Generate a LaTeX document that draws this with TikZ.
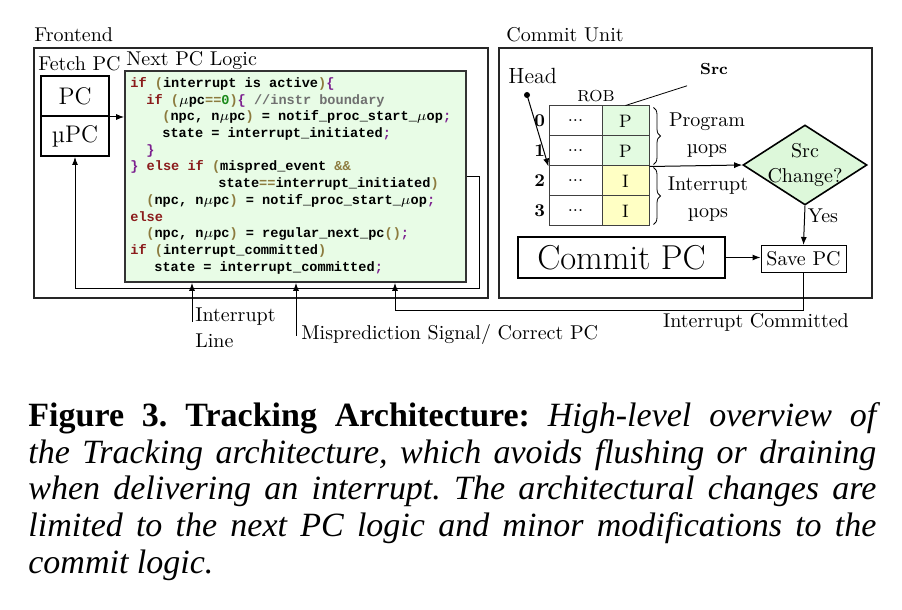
\documentclass[tikz,border=0pt]{standalone}
\usepackage{fontspec}
\usepackage{xcolor}
\usepackage{tikz}
\usetikzlibrary{arrows.meta,shapes.geometric,decorations.pathreplacing}
\newfontfamily\codefont{Liberation Mono}
\newfontfamily\capfont{Liberation Serif}
\definecolor{TRCode}{HTML}{E8FCE6}
\definecolor{TRProg}{HTML}{E3FBE1}
\definecolor{TRIntr}{HTML}{FFFFC4}
\definecolor{TRDiam}{HTML}{DDF8DA}
\definecolor{TRKey}{HTML}{8B1C1C}
\definecolor{TRParen}{HTML}{8C7B3E}
\definecolor{TRBrace}{HTML}{7B1F8E}
\definecolor{TRCmt}{HTML}{707070}
\definecolor{TRNum}{HTML}{1A8A1A}
\newcommand{\cdkw}[1]{\textcolor{TRKey}{#1}}
\newcommand{\cdpn}[1]{\textcolor{TRParen}{#1}}
\newcommand{\cdbr}[1]{\textcolor{TRBrace}{#1}}
\newcommand{\cdcm}[1]{\textcolor{TRCmt}{#1}}
\newcommand{\cdnum}[1]{\textcolor{TRNum}{#1}}

\begin{document}
\begin{tikzpicture}[x=0.5pt,y=-0.5pt,
  arr/.style={-{Latex[length=4pt,width=3pt]},line width=0.5pt},
  unitbox/.style={draw=black!85,line width=0.7pt,inner sep=0pt},
  pcbox/.style={draw,line width=1pt,minimum width=34pt,minimum height=20pt,inner sep=0pt,font=\large},
  robcell/.style={draw=black!75,line width=0.5pt,inner sep=0pt,minimum height=15pt,font=\small},
  rowno/.style={anchor=east,inner sep=1.5pt,font=\small\bfseries}]
\path[use as bounding box] (0,0) rectangle (902,610);
% frontend
\node[unitbox,minimum width=227pt,minimum height=125pt] (front) at (261,173) {};
\node[anchor=base west,inner sep=0pt] at (34,42) {Frontend};
\node[anchor=base west,inner sep=0pt] at (38,71) {Fetch PC};
\node[anchor=base west,inner sep=0pt] at (126,66) {Next PC Logic};
\node[pcbox] (pc) at (75,96) {PC};
\node[pcbox] (upc) at (75,136) {µPC};
\node[draw=black!80,line width=0.8pt,fill=TRCode,minimum width=170.5pt,minimum height=105.5pt,inner sep=0pt] (npl) at (295.5,176.5) {};
\node[anchor=north west,align=left,inner sep=0pt,font=\codefont\bfseries\fontsize{6.8}{8.35}\selectfont] (code) at (130,77) {%
\cdkw{if} \cdpn{(}interrupt is active\cdpn{)}\cdbr{\{}\\
\hspace*{8pt}\cdkw{if} \cdpn{(}$\mu$pc\cdpn{==}\cdnum{0}\cdpn{)}\cdbr{\{} \cdcm{//instr boundary}\\
\hspace*{16pt}\cdpn{(}npc, n$\mu$pc\cdpn{)} = notif\_proc\_start\_$\mu$op\cdbr{;}\\
\hspace*{16pt}state = interrupt\_initiated\cdbr{;}\\
\hspace*{8pt}\cdbr{\}}\\
\cdbr{\}} \cdkw{else if} \cdpn{(}mispred\_event \cdpn{\&\&}\\
\hspace*{44pt}state\cdpn{==}interrupt\_initiated\cdpn{)}\\
\hspace*{8pt}\cdpn{(}npc, n$\mu$pc\cdpn{)} = notif\_proc\_start\_$\mu$op\cdbr{;}\\
\cdkw{else}\\
\hspace*{8pt}\cdpn{(}npc, n$\mu$pc\cdpn{)} = regular\_next\_pc\cdpn{()}\cdbr{;}\\
\cdkw{if} \cdpn{(}interrupt\_committed\cdpn{)}\\
\hspace*{12pt}state = interrupt\_committed\cdbr{;}};
\draw[arr] (pc.south east) -- (pc.south east -| npl.west);
\coordinate (fb) at (479,289);
\draw[arr] (npl.east) -| (fb) -| (upc.south);
% commit unit
\node[unitbox,minimum width=186.5pt,minimum height=125pt] (commit) at (685.5,173) {};
\node[anchor=base west,inner sep=0pt] at (506,42) {Commit Unit};
\node[anchor=base west,inner sep=0pt,font=\fontsize{11}{13}\selectfont] (head) at (508,84) {Head};
\node[font=\footnotesize] (rob) at (596,96) {ROB};
\node[robcell,minimum width=26.5pt] (r0a) at (575.5,121) {...};
\node[robcell,minimum width=23.5pt,fill=TRProg] (r0b) at (625.5,121) {P};
\node[robcell,minimum width=26.5pt] (r1a) at (575.5,151) {...};
\node[robcell,minimum width=23.5pt,fill=TRProg] (r1b) at (625.5,151) {P};
\node[robcell,minimum width=26.5pt] (r2a) at (575.5,181) {...};
\node[robcell,minimum width=23.5pt,fill=TRIntr] (r2b) at (625.5,181) {I};
\node[robcell,minimum width=26.5pt] (r3a) at (575.5,211) {...};
\node[robcell,minimum width=23.5pt,fill=TRIntr] (r3b) at (625.5,211) {I};
\node[rowno] at (r0a.west) {0};
\node[rowno] at (r1a.west) {1};
\node[rowno] at (r2a.west) {2};
\node[rowno] at (r3a.west) {3};
\coordinate (hd) at (527,95);
\fill (hd) circle (1.5pt);
\draw[arr] (hd) -- (r1a.south west);
\node[font=\footnotesize\bfseries] (src) at (714,69) {Src};
\draw[line width=0.4pt] (r0b.north) -- ([xshift=-3pt,yshift=-2pt]src.south west);
\draw[decorate,decoration={brace,amplitude=3.5pt},line width=0.4pt] ([xshift=2pt,yshift=-1pt]r0b.north east) -- ([xshift=2pt,yshift=1pt]r1b.south east);
\draw[decorate,decoration={brace,amplitude=3.5pt},line width=0.4pt] ([xshift=2pt,yshift=-1pt]r2b.north east) -- ([xshift=2pt,yshift=1pt]r3b.south east);
\node[align=center] at (707,135.5) {Program\\[1.5pt]µops};
\node[align=center] at (708,199.5) {Interrupt\\[1.5pt]µops};
\node[diamond,draw,line width=0.8pt,fill=TRDiam,minimum width=62pt,minimum height=40pt,inner sep=0pt] (chg) at (805,165) {};
\node[align=center] at (chg) {Src\\[0.5pt]Change?};
\draw[arr] (r1b.south east) -- (chg.west);
\node[draw,line width=0.5pt,minimum width=42.5pt,minimum height=13.5pt,inner sep=0pt] (savepc) at (803.5,259) {Save PC};
\draw[arr] (chg.south) -- (savepc.north);
\node at (823,216) {Yes};
\node[draw,line width=1.2pt,minimum width=103.5pt,minimum height=20.5pt,inner sep=0pt,font=\LARGE] (cpc) at (621.5,257.5) {Commit PC};
\draw[arr] (cpc.east) -- (cpc.east -| savepc.west);
% signals into next pc logic
\coordinate (il) at (192,322);
\draw[arr] (il) -- (il |- npl.south);
\node[anchor=north west,align=left,inner sep=1pt] at (193,305) {Interrupt\\[1pt]Line};
\coordinate (mp) at (296,336);
\draw[arr] (mp) -- (mp |- npl.south);
\node[anchor=base west,inner sep=1pt] at (299,340) {Misprediction Signal/ Correct PC};
\coordinate (ic) at (395,311);
\draw[arr] (savepc.south) |- (ic) -- (ic |- npl.south);
\node[anchor=base,inner sep=0pt] at (756,328) {Interrupt Committed};
% caption
\node[anchor=north west,text width=424pt,align=justify,inner sep=0pt,font=\capfont\fontsize{17}{18.4}\selectfont\frenchspacing] (caption) at (28,402) {\textbf{Figure 3. Tracking Architecture:} \textit{High-level overview of\linebreak the Tracking architecture, which avoids flushing or draining\linebreak when delivering an interrupt. The architectural changes are\linebreak limited to the next PC logic and minor modifications to the\linebreak commit logic.}};
\end{tikzpicture}
\end{document}
